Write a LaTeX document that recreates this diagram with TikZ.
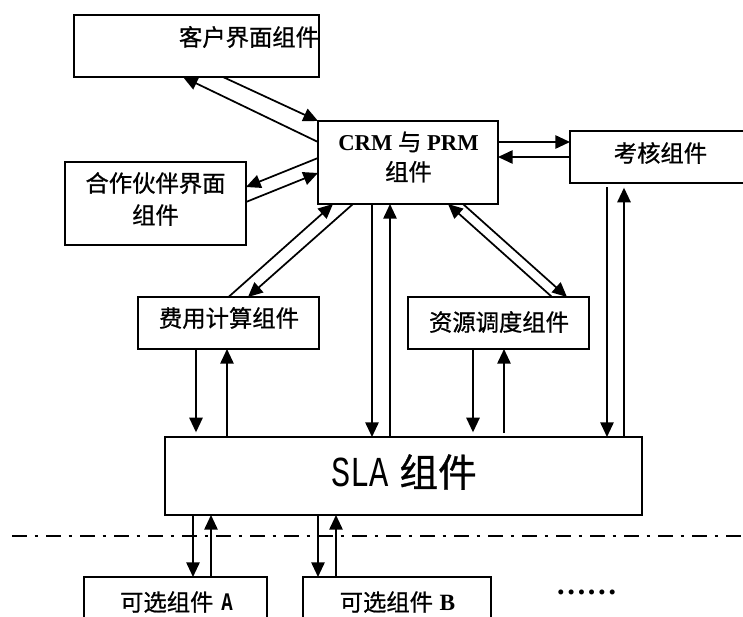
\documentclass[tikz,border=0pt]{standalone}
\usepackage{fontspec}
\setmainfont{Liberation Serif}
\newfontfamily\cjk[FakeBold=0.8]{Noto Sans CJK SC}
\newfontfamily\slamono[FakeStretch=0.75]{Liberation Mono}
\usetikzlibrary{arrows.meta,calc}

\tikzset{
  box/.style={draw, line width=1.3pt, inner sep=0pt, outer sep=0pt},
  dims/.style 2 args={minimum width=#1*0.75pt, minimum height=#2*0.75pt},
  lbl/.style={inner sep=0pt, font=\cjk\fontsize{17.5}{24}\selectfont},
  flow/.style={line width=1.3pt, -{Triangle[length=11pt,width=10pt]}},
}

\begin{document}
\begin{tikzpicture}[x=0.75pt,y=-0.75pt]
\useasboundingbox (0,0) rectangle (743,617);
\clip (0,0) rectangle (743,617);

% component boxes
\node[box, dims={245}{62}] (kehu)    at (196.5,46)   {};
\node[box, dims={180}{83}] (crm)     at (408,162.5)  {};
\node[box, dims={200}{52}] (kaohe)   at (670,157)    {};
\node[box, dims={181}{83}] (hezuo)   at (155.5,203.5){};
\node[box, dims={181}{52}] (feiyong) at (228.5,323)  {};
\node[box, dims={181}{52}] (ziyuan)  at (498.5,323)  {};
\node[box, dims={477}{78}] (sla)     at (403.5,476)  {};
\node[box, dims={183}{62}] (optA)    at (175.5,608)  {};
\node[box, dims={188}{62}] (optB)    at (397,608)    {};

% labels
\node[lbl] (kehuT) at (249,37) {客户界面组件};
\node[lbl, align=center] (hezuoT) at (155.5,199) {合作伙伴界面\\组件};
\node[inner sep=0pt, align=center, font=\fontsize{17}{22.5}\selectfont] (crmT) at (408.5,157)
  {\textbf{CRM} {\cjk\fontsize{17.5}{22.5}\selectfont 与} \textbf{PRM}\\{\cjk\fontsize{17.5}{22.5}\selectfont 组件}};
\node[lbl] (kaoheT) at (660.5,153) {考核组件};
\node[lbl] (feiyongT) at (229,318) {费用计算组件};
\node[lbl] (ziyuanT) at (499,322) {资源调度组件};
\node[inner sep=0pt] (slaT) at (404,472)
  {{\slamono\fontsize{32}{36}\selectfont SLA}\hspace{8pt}{\cjk\fontsize{29}{36}\selectfont 组件}};
\node[lbl] (optAT) at (176.5,602) {可选组件\hspace{6pt}{\slamono\bfseries\fontsize{19}{24}\selectfont A}};
\node[lbl] (optBT) at (397.5,602) {可选组件\hspace{5pt}{\rmfamily\bfseries B}};
\node[inner sep=0pt, font=\bfseries\fontsize{23}{24}\selectfont] (more) at (586.5,592) {……};

% layer separator
\draw[line width=1.3pt, dash pattern=on 11pt off 6pt on 2.5pt off 6pt] (12,536) -- (760,536);

% CRM/PRM <-> customer interface
\draw[flow] ($(kehu.south)+(26.5,0)$) -- (crm.north west);
\draw[flow] ($(crm.west)+(0,-20.5)$) -- ($(kehu.south)+(-13.5,0)$);
% CRM/PRM <-> partner interface
\draw[flow] ($(crm.west)+(0,-4.5)$) -- ($(hezuo.east)+(0,-16.5)$);
\draw[flow] ($(hezuo.east)+(0,-1.5)$) -- ($(crm.west)+(0,10.5)$);
% CRM/PRM <-> assessment
\draw[flow] ($(crm.east)+(0,-20.5)$) -- ($(kaohe.west)+(0,-15)$);
\draw[flow] (kaohe.west) -- ($(crm.east)+(0,-5.5)$);
% CRM/PRM <-> billing
\draw[flow] (feiyong.north) -- ($(crm.south)+(-75,0)$);
\draw[flow] ($(crm.south)+(-55,0)$) -- ($(feiyong.north)+(19.5,0)$);
% CRM/PRM <-> resource scheduling
\draw[flow] ($(crm.south)+(55,0)$) -- ($(ziyuan.north)+(68.5,0)$);
\draw[flow] ($(ziyuan.north)+(53.5,0)$) -- ($(crm.south)+(40,0)$);
% CRM/PRM <-> SLA
\draw[flow] ($(crm.south)+(-36,0)$) -- ($(sla.north)+(-31.5,0)$);
\draw[flow] ($(sla.north)+(-13.5,0)$) -- ($(crm.south)+(-18,0)$);
% assessment <-> SLA
\draw[flow, shorten <=3pt] ($(kaohe.south)+(-63,0)$) -- ($(sla.north)+(203.5,0)$);
\draw[flow, shorten >=3.5pt] ($(sla.north)+(220.5,0)$) -- ($(kaohe.south)+(-46,0)$);
% billing <-> SLA
\draw[flow, shorten >=3.5pt] ($(feiyong.south)+(-32.5,0)$) -- ($(sla.north)+(-207.5,0)$);
\draw[flow] ($(sla.north)+(-176.5,0)$) -- ($(feiyong.south)+(-1.5,0)$);
% resource scheduling <-> SLA
\draw[flow, shorten >=3.5pt] ($(ziyuan.south)+(-25.5,0)$) -- ($(sla.north)+(69.5,0)$);
\draw[flow, shorten <=3pt] ($(sla.north)+(100.5,0)$) -- ($(ziyuan.south)+(5.5,0)$);
% SLA <-> optional components
\draw[flow] ($(sla.south)+(-210.5,0)$) -- ($(optA.north)+(17.5,0)$);
\draw[flow] ($(optA.north)+(35.5,0)$) -- ($(sla.south)+(-192.5,0)$);
\draw[flow] ($(sla.south)+(-85.5,0)$) -- ($(optB.north)+(-79,0)$);
\draw[flow] ($(optB.north)+(-61,0)$) -- ($(sla.south)+(-67.5,0)$);
\end{tikzpicture}
\end{document}
